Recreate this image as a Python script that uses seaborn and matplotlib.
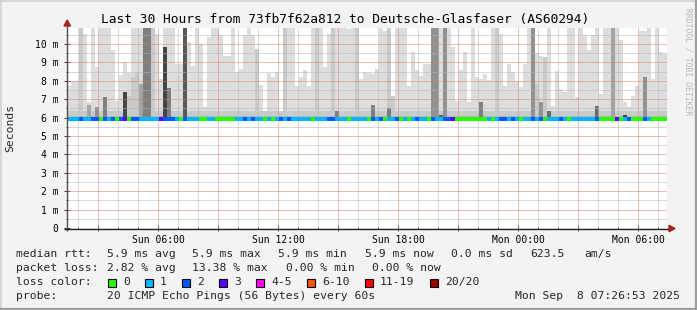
import matplotlib
matplotlib.use("Agg")
import matplotlib.pyplot as plt
import matplotlib.dates as mdates
from matplotlib.patches import Rectangle, Polygon
from matplotlib.lines import Line2D
from matplotlib.ticker import FixedLocator, FuncFormatter
import seaborn as sns
import numpy as np
from datetime import datetime, timedelta

# ---------------- data ----------------
title = "Last 30 Hours from 73fb7f62a812 to Deutsche-Glasfaser (AS60294)"
start_time = datetime(2025, 9, 7, 1, 26, 53)
end_time = datetime(2025, 9, 8, 7, 26, 53)
step_minutes = 12
median_rtt = 5.9       # ms
smoke_floor = 5.85     # ms, lowest ping

# highest ping per 12-minute step (ms)
rtt_max = [
    7.74, 7.97, 7.97, 11, 10.54, 6.83, 11, 8.77, 11, 11,
    11, 9.67, 6.9, 8.3, 9.0, 8.4, 11, 11, 11, 11,
    11, 11, 10.54, 8.1, 11, 11, 11, 8.9, 8.9, 11,
    10.1, 8.8, 11, 9.99, 6.55, 10.4, 11, 11, 10.5, 9.36,
    9.36, 11, 8.46, 8.63, 10.5, 11, 10.5, 9.72, 7.79, 6.38,
    8.4, 8.2, 8.46, 6.29, 11, 11, 11, 7.74, 8.18, 8.58,
    7.74, 11, 11, 11, 8.73, 10.54, 11, 11, 11, 11,
    10.8, 11, 11, 8.1, 8.46, 8.4, 8.37, 8.63, 11, 10.72,
    11, 7.19, 11, 11, 11, 7.74, 9.55, 8.58, 8.27, 8.91,
    8.91, 11, 11, 11, 11, 11, 9.85, 6.9, 8.58, 9.55,
    6.83, 11, 8.2, 8.1, 8.37, 8.04, 11, 11, 10.54, 7.74,
    8.91, 8.46, 8.0, 7.68, 8.91, 11, 11, 9.5, 9.36, 9.3,
    11, 6.65, 8.55, 7.55, 7.37, 11, 11, 7.1, 11, 10.5,
    9.67, 10.5, 11, 7.28, 11, 11, 11, 11, 10.2, 6.83,
    6.6, 7.19, 7.74, 10.7, 10.7, 11, 8.1, 11, 9.55, 9.46,
]
# second highest ping per step (ms)
rtt_2nd = [
    6.35, 6.35, 6.35, 11, 6.35, 6.35, 6.35, 6.35, 6.35, 6.35,
    6.35, 6.35, 6.35, 6.35, 6.35, 7.2, 8.2, 8.46, 6.35, 6.35,
    6.35, 11, 6.35, 6.35, 6.35, 6.35, 6.35, 6.35, 6.35, 6.35,
    6.35, 6.35, 6.35, 6.35, 6.35, 6.35, 6.35, 6.35, 6.35, 6.35,
    6.35, 6.35, 6.35, 6.35, 6.35, 6.35, 6.35, 9.72, 6.35, 6.35,
    6.35, 6.35, 6.35, 6.35, 11, 6.35, 6.35, 6.35, 6.35, 6.35,
    6.35, 6.35, 11, 6.35, 6.35, 6.35, 11, 6.35, 6.35, 6.35,
    6.35, 6.35, 11, 6.35, 6.35, 6.35, 6.35, 6.35, 6.35, 6.35,
    11, 7.19, 6.35, 6.35, 6.35, 6.35, 6.35, 6.35, 6.35, 6.35,
    6.35, 6.35, 6.35, 6.35, 6.35, 6.35, 6.35, 6.35, 6.35, 6.35,
    6.35, 6.35, 6.35, 6.35, 6.35, 6.35, 6.35, 11, 6.35, 6.35,
    6.35, 6.35, 6.35, 6.35, 6.35, 6.35, 6.35, 7.8, 6.35, 9.3,
    6.35, 6.35, 6.35, 6.35, 6.35, 6.35, 6.35, 6.35, 6.35, 6.35,
    6.35, 6.35, 6.35, 6.35, 6.35, 6.35, 6.35, 6.35, 6.35, 6.35,
    6.35, 6.35, 6.35, 6.35, 6.35, 6.35, 6.35, 6.35, 6.35, 6.35,
]
# top of the densest smoke band per step (ms) and how many pings reach it
core_top = [
    6.1, 6.1, 6.1, 6.1, 6.1, 6.7, 6.1, 6.6, 6.1, 7.1,
    6.1, 6.1, 6.1, 6.1, 7.4, 6.1, 6.1, 6.1, 7.8, 11,
    11, 6.1, 6.1, 6.1, 9.85, 7.6, 6.1, 6.1, 6.1, 11,
    6.1, 6.1, 6.1, 6.1, 6.1, 6.1, 6.1, 6.1, 6.1, 6.1,
    6.1, 6.1, 6.1, 6.1, 6.1, 6.1, 6.1, 6.1, 6.1, 6.1,
    6.1, 6.1, 6.1, 6.1, 6.1, 6.1, 6.1, 6.1, 6.1, 6.1,
    6.1, 6.1, 6.1, 6.1, 6.1, 6.1, 6.1, 6.34, 6.1, 6.1,
    6.1, 6.1, 6.1, 6.1, 6.1, 6.1, 6.7, 6.1, 6.1, 6.1,
    6.53, 6.1, 6.1, 6.1, 6.1, 6.1, 6.1, 6.1, 6.1, 6.1,
    6.1, 11, 11, 6.16, 11, 6.1, 6.1, 6.1, 6.1, 6.1,
    6.1, 6.1, 6.1, 6.83, 6.1, 6.1, 6.1, 6.1, 6.1, 6.1,
    6.1, 6.1, 6.1, 6.1, 6.1, 6.1, 11, 6.1, 6.83, 6.1,
    6.34, 6.1, 6.1, 6.1, 6.1, 6.1, 6.1, 6.1, 6.1, 6.1,
    6.1, 6.1, 6.65, 6.1, 6.1, 6.1, 11, 6.1, 6.1, 6.16,
    6.1, 6.1, 6.1, 6.1, 8.18, 6.1, 6.1, 6.1, 6.1, 6.1,
]
core_count = [
    3, 3, 3, 3, 3, 4, 3, 5, 3, 6,
    3, 3, 3, 3, 9, 3, 3, 3, 4, 6,
    6, 3, 3, 3, 9, 6, 3, 3, 3, 8,
    3, 3, 3, 3, 3, 3, 3, 3, 3, 3,
    3, 3, 3, 3, 3, 3, 3, 3, 3, 3,
    3, 3, 3, 3, 3, 3, 3, 3, 3, 3,
    3, 3, 3, 3, 3, 3, 3, 6, 3, 3,
    3, 3, 3, 3, 3, 3, 6, 3, 3, 3,
    6, 3, 3, 3, 3, 3, 3, 3, 3, 3,
    3, 5, 5, 8, 5, 3, 3, 3, 3, 3,
    3, 3, 3, 6, 3, 3, 3, 3, 3, 3,
    3, 3, 3, 3, 3, 3, 5, 3, 5, 3,
    7, 3, 3, 3, 3, 3, 3, 3, 3, 3,
    3, 3, 7, 3, 3, 3, 4, 3, 3, 9,
    3, 3, 3, 3, 5, 3, 3, 3, 3, 3,
]
# lost pings per step (index into loss classes)
loss_class = [
    1, 1, 1, 2, 1, 1, 2, 2, 0, 2,
    1, 2, 0, 2, 3, 0, 2, 2, 1, 1,
    1, 1, 1, 3, 2, 2, 2, 1, 0, 2,
    1, 1, 1, 0, 0, 1, 1, 0, 0, 0,
    0, 0, 1, 1, 2, 1, 2, 1, 1, 0,
    1, 0, 1, 2, 1, 2, 1, 1, 1, 1,
    1, 0, 1, 1, 1, 2, 2, 1, 1, 1,
    0, 1, 1, 1, 1, 0, 2, 1, 2, 0,
    1, 1, 2, 0, 1, 0, 1, 2, 1, 1,
    0, 2, 1, 1, 2, 2, 3, 0, 0, 0,
    0, 0, 0, 0, 0, 1, 0, 1, 2, 2,
    1, 2, 1, 0, 1, 1, 2, 1, 2, 0,
    1, 1, 1, 2, 1, 0, 1, 1, 1, 1,
    1, 1, 2, 0, 0, 0, 0, 3, 0, 1,
    2, 0, 0, 0, 2, 1, 0, 0, 0, 0,
]
loss_labels = ["0", "1", "2", "3", "4-5", "6-10", "11-19", "20/20"]
loss_colors = ["#26ff00", "#00b8ff", "#0059ff", "#5e00ff",
               "#ff00ff", "#ff5500", "#ff0000", "#a00000"]
y_ticks = [0, 1, 2, 3, 4, 5, 6, 7, 8, 9, 10]
y_tick_labels = ["0", "1 m", "2 m", "3 m", "4 m", "5 m", "6 m", "7 m", "8 m", "9 m", "10 m"]
y_top = 10.87
rtt_stats = ["5.9 ms avg", "5.9 ms max", "5.9 ms min", "5.9 ms now", "0.0 ms sd", "623.5", "am/s"]
loss_stats = ["2.82 % avg", "13.38 % max", "0.00 % min", "0.00 % now"]
probe_text = "20 ICMP Echo Pings (56 Bytes) every 60s"
stamp_text = "Mon Sep  8 07:26:53 2025"

# ---------------- figure ----------------
sns.set_theme(style="white")
plt.rcParams['font.family'] = ['DejaVu Sans Mono']
W, H = 697, 310
BG = "#f3f3f3"
fig = plt.figure(figsize=(W / 100, H / 100), dpi=100)
fig.patch.set_facecolor(BG)

def fx(x):
    return x / W

def fy(y):
    return 1 - y / H

ax = fig.add_axes([fx(67), fy(228), 600 / W, 200 / H])
ax.set_facecolor("white")

n = len(rtt_max)
times = [start_time + timedelta(minutes=step_minutes * k) for k in range(n)]
xnum = mdates.date2num(times)
bw = step_minutes / 1440.0

def shade(rank):
    v = int(190 / 10 * (10 - rank)) + 50
    return "#%02x%02x%02x" % (v, v, v)

rtt_max_a = np.array(rtt_max)
rtt_2nd_a = np.array(rtt_2nd)
core_top_a = np.array(core_top)
ax.bar(xnum, rtt_max_a - smoke_floor, bottom=smoke_floor, width=bw, align="edge",
       color=shade(1), linewidth=0, antialiased=False, zorder=1)
ax.bar(xnum, rtt_2nd_a - smoke_floor, bottom=smoke_floor, width=bw, align="edge",
       color=shade(2), linewidth=0, antialiased=False, zorder=1.1)
ax.bar(xnum, core_top_a - smoke_floor, bottom=smoke_floor, width=bw, align="edge",
       color=[shade(r) for r in core_count], linewidth=0, antialiased=False, zorder=1.2)

x0 = mdates.date2num(start_time)
x1 = mdates.date2num(end_time)
ax.set_xlim(x0, x1)
ax.set_ylim(0, y_top)

# grid (dotted in rrdtool; rendered as half-strength solid lines)
MAJ_C = "#e07a7a"
MIN_C = "#b4b4b4"
t = start_time.replace(minute=0, second=0) + timedelta(hours=1)
while t < end_time:
    major = t.hour % 3 == 0
    ax.axvline(mdates.date2num(t), color=MAJ_C if major else MIN_C, alpha=0.5,
               lw=0.72, snap=True, zorder=3)
    t += timedelta(hours=1)
for v in np.arange(0.5, y_top, 0.5):
    major = abs(v - round(v)) < 1e-6
    ax.axhline(v, color=MAJ_C if major else MIN_C, alpha=0.5,
               lw=0.72, snap=True, zorder=3)

# median line coloured by loss
ax.hlines([median_rtt] * n, xnum, xnum + bw,
          colors=[loss_colors[c] for c in loss_class], lw=1.5,
          capstyle="butt", antialiased=False, zorder=5)

# ticks
maj = []
mnr = []
t = start_time.replace(minute=0, second=0) + timedelta(hours=1)
while t < end_time:
    (maj if t.hour % 3 == 0 else mnr).append(mdates.date2num(t))
    t += timedelta(hours=1)
ax.xaxis.set_major_locator(FixedLocator(maj))
ax.xaxis.set_minor_locator(FixedLocator(mnr))

def xfmt(x, pos):
    d = mdates.num2date(x)
    d = d.replace(second=0, microsecond=0)
    return d.strftime("%a %H:%M") if round(d.hour + d.minute / 60) % 6 == 0 else ""

ax.xaxis.set_major_formatter(FuncFormatter(xfmt))
ax.set_yticks(y_ticks)
ax.set_yticklabels(y_tick_labels)
ax.yaxis.set_minor_locator(FixedLocator(list(np.arange(0.5, y_top, 1.0))))
ax.tick_params(axis="x", which="major", direction="inout", length=4, width=0.72,
               color="#404040", labelsize=7, pad=3, labelcolor="black")
ax.tick_params(axis="x", which="minor", direction="inout", length=2, width=0.72,
               color="#404040")
ax.tick_params(axis="y", which="major", direction="inout", length=4, width=0.72,
               color="#404040", labelsize=7, pad=4, labelcolor="black")
ax.tick_params(axis="y", which="minor", direction="inout", length=2, width=0.72,
               color="#404040")
ax.tick_params(bottom=True, left=True, which="both")
for s in ax.spines.values():
    s.set_visible(False)

# axes lines + arrows (figure pixel coords)
def line_px(xs, ys, color, lw):
    fig.add_artist(Line2D([fx(v) for v in xs], [fy(v) for v in ys],
                          color=color, lw=lw, transform=fig.transFigure,
                          solid_capstyle="butt", zorder=10))

line_px([67, 67], [231, 25], "#505050", 1.0)
line_px([64, 669], [228.5, 228.5], "#202020", 1.0)
arrow_c = "#a52020"
fig.add_artist(Polygon([(fx(64), fy(26)), (fx(70.5), fy(26)), (fx(67.2), fy(20))],
                       closed=True, color=arrow_c, transform=fig.transFigure, zorder=11))
fig.add_artist(Polygon([(fx(669), fy(225.3)), (fx(669), fy(231.7)), (fx(675), fy(228.5))],
                       closed=True, color=arrow_c, transform=fig.transFigure, zorder=11))

# texts
fig.text(fx(345), fy(19), title, ha="center", va="center", fontsize=9.3, color="black")
fig.text(fx(10), fy(128), "Seconds", rotation=90, ha="center", va="center", fontsize=8.2)
fig.text(fx(688), fy(62), "RRDTOOL / TOBI OETIKER", rotation=270, ha="center",
         va="center", fontsize=5.8, color="#b8b8b8")

fs = 8.2
rows_y = [254, 268, 282, 296]
fig.text(fx(16), fy(rows_y[0]), "median rtt:", va="center", fontsize=fs)
for s_txt, xp in zip(rtt_stats, [107, 192, 278, 365, 451, 530, 584]):
    fig.text(fx(xp), fy(rows_y[0]), s_txt, va="center", fontsize=fs)
fig.text(fx(16), fy(rows_y[1]), "packet loss:", va="center", fontsize=fs)
for s_txt, xp in zip(loss_stats, [107, 192, 286, 372]):
    fig.text(fx(xp), fy(rows_y[1]), s_txt, va="center", fontsize=fs)
fig.text(fx(16), fy(rows_y[2]), "loss color:", va="center", fontsize=fs)
for lab, col, xp in zip(loss_labels, loss_colors, [108, 145, 182, 219, 256, 307, 365, 430]):
    fig.add_artist(Rectangle((fx(xp), fy(rows_y[2] + 4.5)), 8 / W, 8 / H,
                             facecolor=col, edgecolor="black", lw=0.8,
                             transform=fig.transFigure, zorder=10))
    fig.text(fx(xp + 15), fy(rows_y[2]), lab, va="center", fontsize=fs)
fig.text(fx(16), fy(rows_y[3]), "probe:", va="center", fontsize=fs)
fig.text(fx(107), fy(rows_y[3]), probe_text, va="center", fontsize=fs)
fig.text(fx(680), fy(rows_y[3]), stamp_text, va="center", ha="right", fontsize=fs)

# rrdtool frame shading
line_px([0, 697], [0.75, 0.75], "#cfcfcf", 1.1)
line_px([0.75, 0.75], [0, 310], "#cfcfcf", 1.1)
line_px([0, 697], [308.9, 308.9], "#9e9e9e", 1.6)
line_px([696, 696], [0, 310], "#9e9e9e", 1.6)

fig.savefig("out.png", dpi=100, facecolor=BG)
